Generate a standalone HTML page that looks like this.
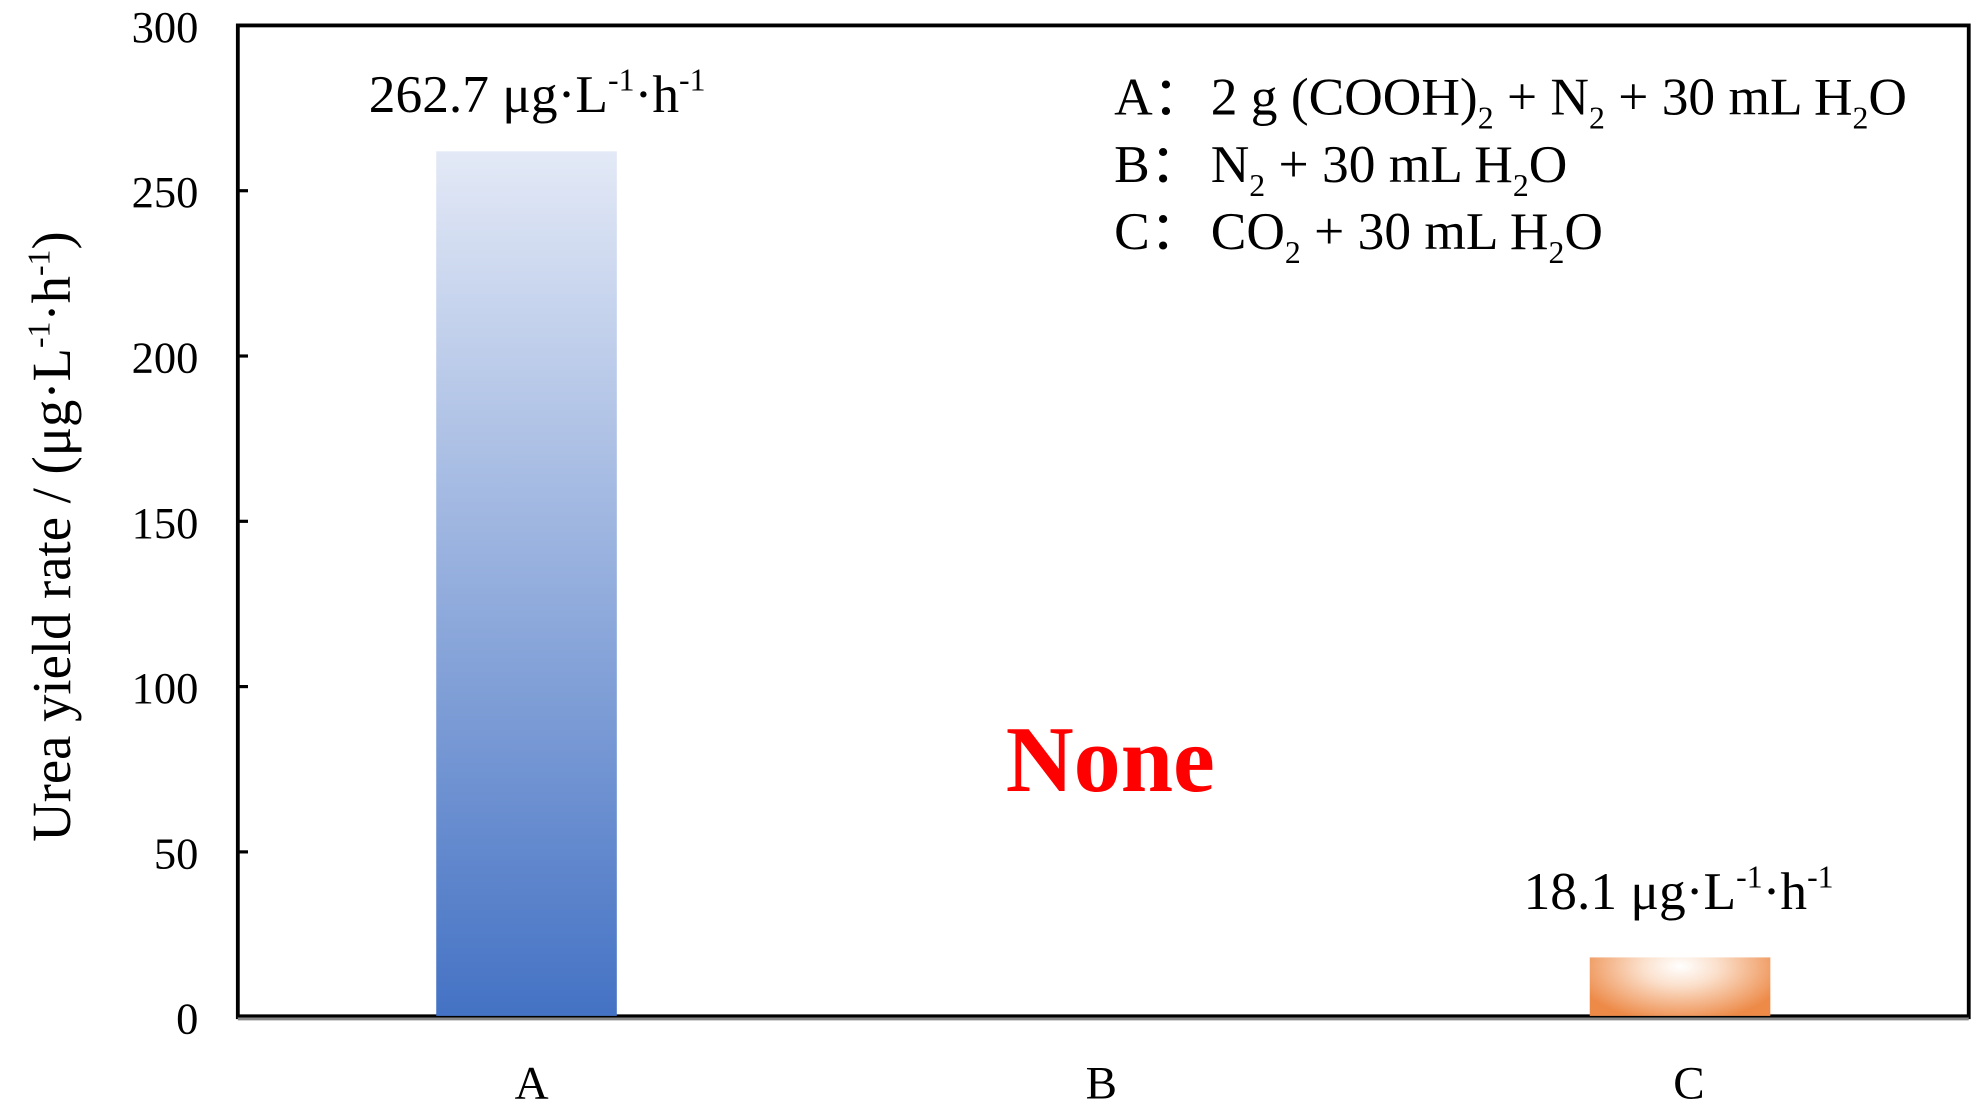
<!DOCTYPE html>
<html><head><meta charset="utf-8"><style>html,body{margin:0;padding:0;background:#fff}svg{display:block}</style></head>
<body>
<svg width="1984" height="1110" viewBox="0 0 1560 873" preserveAspectRatio="none" xmlns="http://www.w3.org/2000/svg" font-family="Liberation Serif, serif">
<defs>
<linearGradient id="ga" x1="0" y1="0" x2="0" y2="1">
<stop offset="0" stop-color="#e3e9f6"/><stop offset="1" stop-color="#4472c4"/></linearGradient>
<radialGradient id="gc" cx="0.5" cy="0.15" r="0.6" gradientTransform="translate(0.5,0.15) scale(1,1.6) translate(-0.5,-0.15)">
<stop offset="0" stop-color="#ffffff"/><stop offset="0.35" stop-color="#fbe0cc"/><stop offset="1" stop-color="#ed8a48"/></radialGradient>
</defs>
<rect x="187" y="20" width="1361" height="780" fill="none" stroke="#000" stroke-width="3"/>
<line x1="187" y1="801" x2="1548" y2="801" stroke="#888" stroke-width="3"/>
<line x1="187" y1="799" x2="1548" y2="799" stroke="#000" stroke-width="2.5"/>
<g stroke="#000" stroke-width="2.5">
<line x1="187" y1="150" x2="195" y2="150"/><line x1="187" y1="280" x2="195" y2="280"/>
<line x1="187" y1="410" x2="195" y2="410"/><line x1="187" y1="540" x2="195" y2="540"/>
<line x1="187" y1="670" x2="195" y2="670"/>
</g>
<rect x="343" y="119" width="142" height="680" fill="url(#ga)"/>
<rect x="1250" y="753" width="142" height="46" fill="url(#gc)"/>
<g font-size="35" text-anchor="end">
<text x="156" y="33">300</text><text x="156" y="163">250</text><text x="156" y="293">200</text>
<text x="156" y="423">150</text><text x="156" y="553">100</text><text x="156" y="683">50</text>
<text x="156" y="813">0</text>
</g>
<g font-size="37" text-anchor="middle">
<text x="418" y="864">A</text><text x="866" y="864">B</text><text x="1328" y="864">C</text>
</g>
<text transform="translate(55,422) rotate(-90)" font-size="43" text-anchor="middle">Urea yield rate / (μg·L<tspan font-size="25" dy="-16">-1</tspan><tspan dy="16">·h</tspan><tspan font-size="25" dy="-16">-1</tspan><tspan dy="16">)</tspan></text>
<text x="290" y="88" font-size="42">262.7 μg·L<tspan font-size="25" dy="-17">-1</tspan><tspan dy="17">·h</tspan><tspan font-size="25" dy="-17">-1</tspan></text>
<text x="1198" y="715" font-size="42">18.1 μg·L<tspan font-size="25" dy="-17">-1</tspan><tspan dy="17">·h</tspan><tspan font-size="25" dy="-17">-1</tspan></text>
<g font-size="42">
<text x="876" y="90">A：</text>
<text x="952" y="90">2 g (COOH)<tspan font-size="25" dy="11">2</tspan><tspan dy="-11"> + N</tspan><tspan font-size="25" dy="11">2</tspan><tspan dy="-11"> + 30 mL H</tspan><tspan font-size="25" dy="11">2</tspan><tspan dy="-11">O</tspan></text>
<text x="876" y="143">B：</text>
<text x="952" y="143">N<tspan font-size="25" dy="11">2</tspan><tspan dy="-11"> + 30 mL H</tspan><tspan font-size="25" dy="11">2</tspan><tspan dy="-11">O</tspan></text>
<text x="876" y="196">C：</text>
<text x="952" y="196">CO<tspan font-size="25" dy="11">2</tspan><tspan dy="-11"> + 30 mL H</tspan><tspan font-size="25" dy="11">2</tspan><tspan dy="-11">O</tspan></text>
</g>
<text x="873" y="622" font-size="74" font-weight="bold" fill="#ff0000" text-anchor="middle">None</text>
</svg>
</body></html>
